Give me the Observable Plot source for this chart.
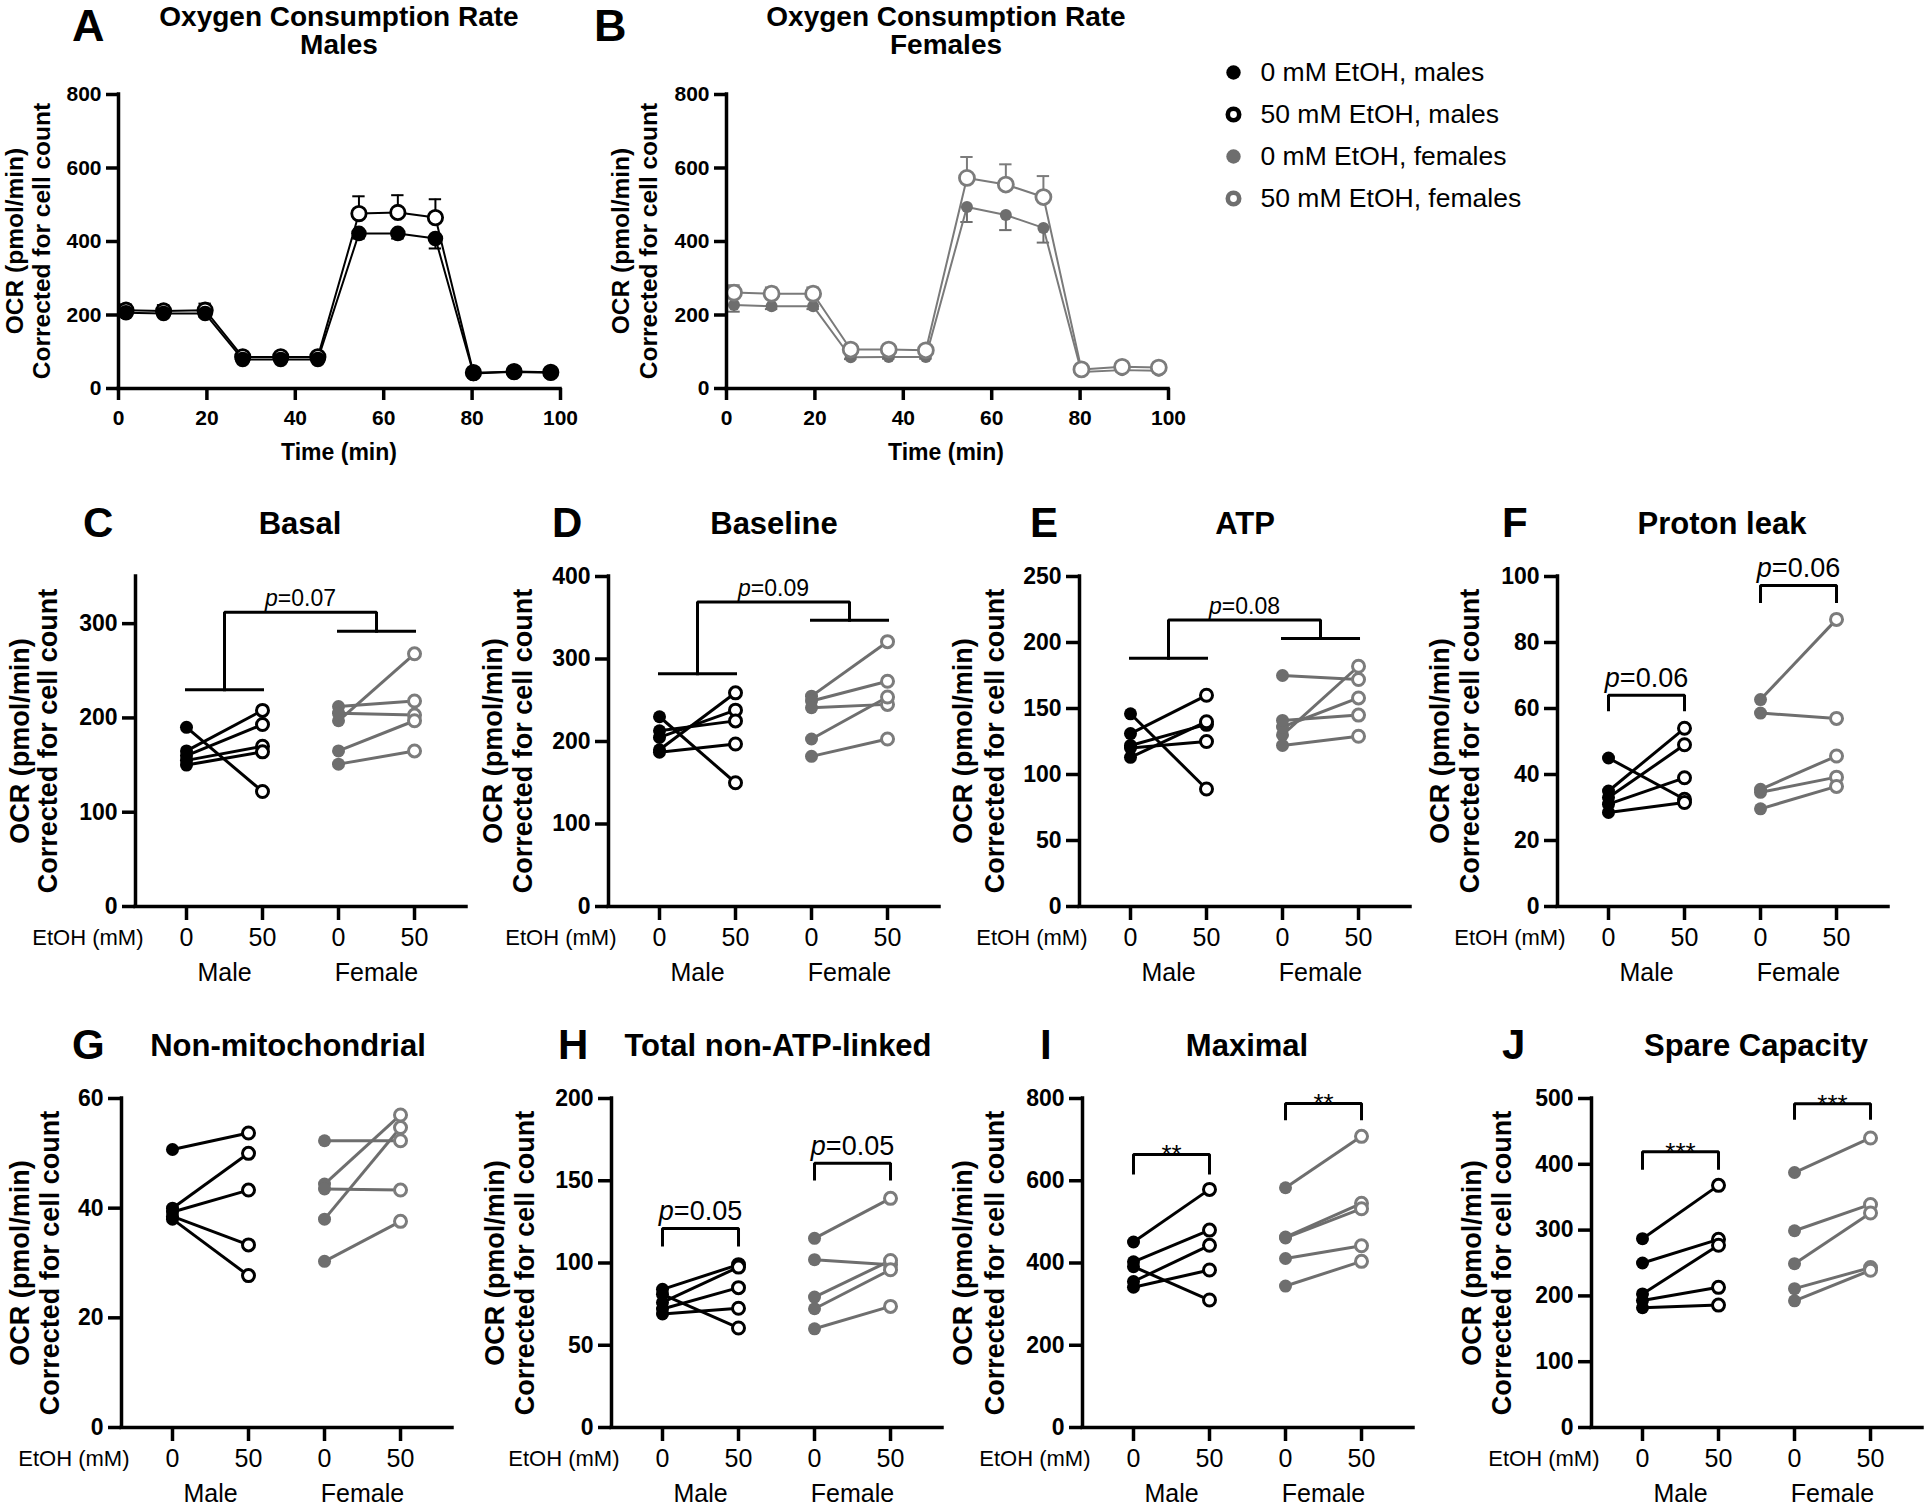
<!DOCTYPE html>
<html>
<head>
<meta charset="utf-8">
<title>Oxygen consumption rate figure</title>
<script src="https://cdn.jsdelivr.net/npm/d3@7"></script>
<script src="https://cdn.jsdelivr.net/npm/@observablehq/plot@0.6"></script>
<style>
html, body { margin: 0; padding: 0; background: #fff; }
#fig { position: relative; width: 1924px; height: 1506px; overflow: hidden; background: #fff; }
</style>
</head>
<body>
<div id="fig"></div>
<script>
// ---------------- Panels A & B : time course (mean, SEM) ----------------
const times = [1.7, 10.2, 19.6, 28.1, 36.7, 45.1, 54.4, 63.2, 71.7, 80.3, 89.5, 97.8];
const maleCtrl      = [206, 204, 204, 79, 79, 79, 422, 422, 408, 41, 45, 43];
const maleCtrlSem   = [10, 8, 9, 6, 6, 6, 14, 14, 27, 3, 3, 3];
const maleEtoh      = [213, 211, 213, 86, 86, 86, 476, 479, 465, 43, 46, 44];
const maleEtohSem   = [16, 16, 18, 6, 6, 6, 47, 47, 50, 3, 3, 3];
const femaleCtrl    = [227, 224, 224, 85, 86, 86, 494, 472, 437, 45, 50, 48];
const femaleCtrlSem = [18, 8, 8, 5, 5, 5, 41, 41, 40, 4, 4, 4];
const femaleEtoh    = [261, 258, 258, 106, 106, 104, 573, 555, 521, 52, 59, 57];
const femaleEtohSem = [20, 17, 17, 6, 6, 6, 57, 55, 57, 4, 4, 4];
const timeTicks = [0, 20, 40, 60, 80, 100];
const ocrTicks = [0, 200, 400, 600, 800];

const legendLabels = ["0 mM EtOH, males", "50 mM EtOH, males", "0 mM EtOH, females", "50 mM EtOH, females"];

// ---------------- Panels C–J : paired values (0 mM -> 50 mM) ----------------
const doseLabels = ["0", "50", "0", "50"];
const sexLabels = ["Male", "Female"];

const basalMale0 = [190, 165, 160, 155, 150];
const basalMale50 = [122, 208, 193, 170, 164];
const basalFemale0 = [197, 212, 205, 165, 151];
const basalFemale50 = [268, 218, 203, 197, 165];

const baselineMale0 = [230, 190, 205, 213, 187];
const baselineMale50 = [150, 259, 238, 225, 197];
const baselineFemale0 = [255, 249, 241, 203, 182];
const baselineFemale50 = [321, 273, 245, 254, 203];

const atpMale0 = [146, 131, 122, 113, 120];
const atpMale50 = [89, 160, 138, 140, 125];
const atpFemale0 = [175, 130, 136, 141, 122];
const atpFemale50 = [172, 182, 158, 145, 129];

const leakMale0 = [45, 35, 33, 31, 28.5];
const leakMale50 = [32.5, 54, 49, 39, 31.5];
const leakFemale0 = [62.7, 58.6, 35.5, 34.6, 29.6];
const leakFemale50 = [87, 57, 45.6, 39.2, 36.4];

const nonmitoMale0 = [50.7, 40, 39.3, 38.5, 38];
const nonmitoMale50 = [53.7, 50, 43.3, 33.3, 27.7];
const nonmitoFemale0 = [52.3, 44.4, 43.5, 38, 30.3];
const nonmitoFemale50 = [52.3, 57, 43.3, 54.7, 37.6];

const nonAtpMale0 = [81, 84, 76, 72, 69];
const nonAtpMale50 = [60.5, 99, 97.5, 85, 72.5];
const nonAtpFemale0 = [115, 102, 79.3, 72.2, 60];
const nonAtpFemale50 = [139.3, 99, 101.5, 95.9, 73.6];

const maximalMale0 = [451, 403, 355, 391, 341];
const maximalMale50 = [579, 480, 443, 310, 383];
const maximalFemale0 = [583, 463, 461, 411, 344];
const maximalFemale50 = [708, 545, 532, 442, 404];

const spareMale0 = [287, 250, 203, 193, 182];
const spareMale50 = [368, 286, 277, 213, 186];
const spareFemale0 = [387.5, 299, 249, 211, 192.5];
const spareFemale50 = [440, 339, 326, 243, 239];

// significance annotations (values in data units)
const basalBracket = {type: "across", male: 230, female: 292, top: 312, label: "p=0.07"};
const baselineBracket = {type: "across", male: 282, female: 347, top: 369, label: "p=0.09"};
const atpBracket = {type: "across", male: 188, female: 203, top: 217, label: "p=0.08"};
const leakBrackets = {type: "within", items: [{h: 64, leg: 59.6, label: "p=0.06"}, {h: 97.3, leg: 92.4, label: "p=0.06"}]};
const nonAtpBrackets = {type: "within", items: [{h: 121, leg: 111, label: "p=0.05"}, {h: 160.6, leg: 151, label: "p=0.05"}]};
const maximalBrackets = {type: "within", items: [{h: 664, leg: 619, label: "**"}, {h: 788, leg: 751, label: "**"}]};
const spareBrackets = {type: "within", items: [{h: 419, leg: 394, label: "***"}, {h: 492, leg: 470, label: "***"}]};

// ---------------- styling / layout ----------------
const FONT = '"Liberation Sans", Arial, Helvetica, sans-serif';
const BLACK = "#000000", GREY = "#6e6e6e", GREY_OPEN = "#7c7c7c", GREY_LINE = "#7a7a7a";
const fig = document.getElementById("fig");

function addText(text, x, y, {size = 20, weight = "bold", anchor = "middle", rotate = 0} = {}) {
  const d = document.createElement("div");
  d.textContent = text;
  Object.assign(d.style, {position: "absolute", left: x + "px", top: y + "px", fontSize: size + "px",
    fontWeight: weight, whiteSpace: "nowrap", lineHeight: "1", fontFamily: FONT, color: "#000"});
  const tx = anchor === "middle" ? "-50%" : anchor === "end" ? "-100%" : "0";
  d.style.transform = `translate(${tx}, -50%)` + (rotate ? ` rotate(${rotate}deg)` : "");
  fig.appendChild(d);
}
function place(svg, left, top) {
  svg.style.position = "absolute";
  svg.style.left = left + "px";
  svg.style.top = top + "px";
  svg.style.maxWidth = "none";
  // italic "p" in p-value labels
  svg.querySelectorAll("text").forEach(t => {
    if (t.childElementCount === 0 && /^p=/.test(t.textContent)) {
      const rest = t.textContent.slice(1);
      t.textContent = "";
      const sp = document.createElementNS("http://www.w3.org/2000/svg", "tspan");
      sp.setAttribute("font-style", "italic");
      sp.textContent = "p";
      t.appendChild(sp);
      t.appendChild(document.createTextNode(rest));
    }
  });
  fig.appendChild(svg);
}

// ---------- time-course panels ----------
function timeCourse(series, box) {
  const sets = series.map(s => times.map((t, i) => ({t, v: s.values[i], e: s.sem[i] * s.dir, color: s.color})));
  const marks = [];
  sets.forEach(rows => {
    marks.push(Plot.ruleX(rows, {x: "t", y1: "v", y2: d => d.v + d.e, stroke: "color", strokeWidth: 2}));
    marks.push(Plot.ruleY(rows, {y: d => d.v + d.e, x1: d => d.t - 1.4, x2: d => d.t + 1.4, stroke: "color", strokeWidth: 2}));
  });
  sets.forEach((rows, k) => marks.push(Plot.line(rows, {x: "t", y: "v", stroke: series[k].line, strokeWidth: 2})));
  sets.forEach((rows, k) => {
    const s = series[k];
    marks.push(Plot.dot(rows, s.open
      ? {x: "t", y: "v", r: s.r, fill: "white", stroke: s.color, strokeWidth: 2.8}
      : {x: "t", y: "v", r: s.r, fill: s.color}));
  });
  marks.push(
    Plot.ruleX([0], {strokeWidth: 3.5, strokeLinecap: "square"}),
    Plot.ruleY([0], {strokeWidth: 3.5, strokeLinecap: "square"}),
    Plot.axisY({ticks: ocrTicks, tickSize: 12, tickPadding: 5, strokeWidth: 3.5, fontSize: 21, fontWeight: "bold", label: null}),
    Plot.axisX({ticks: timeTicks, tickSize: 12, tickPadding: 10, strokeWidth: 3.5, fontSize: 21, fontWeight: "bold", label: null})
  );
  return Plot.plot({
    width: box.width, height: 380, marginLeft: box.ml, marginRight: 14, marginTop: 34, marginBottom: 52,
    style: {fontFamily: FONT, background: "transparent", overflow: "visible", fontWeight: "bold"},
    x: {domain: [0, 100]}, y: {domain: [0, 800]}, color: {type: "identity"},
    marks
  });
}

// frame A: x 118–560, frame B: x 726–1168, both y 94–388
place(timeCourse([
  {values: maleEtoh, sem: maleEtohSem, dir: 1, color: BLACK, line: BLACK, open: true, r: 7.2},
  {values: maleCtrl, sem: maleCtrlSem, dir: -1, color: BLACK, line: BLACK, open: false, r: 7.8}
], {width: 574, ml: 118}), 0, 60);

place(timeCourse([
  {values: femaleCtrl, sem: femaleCtrlSem, dir: -1, color: GREY, line: GREY_LINE, open: false, r: 6},
  {values: femaleEtoh, sem: femaleEtohSem, dir: 1, color: GREY_OPEN, line: GREY_LINE, open: true, r: 7.5}
], {width: 576, ml: 120}), 606, 60);

// ---------- legend ----------
{
  const rows = legendLabels.map((label, i) => ({label, color: i < 2 ? BLACK : GREY, open: i % 2 === 1}));
  const svg = Plot.plot({
    width: 460, height: 190, margin: 0,
    style: {fontFamily: FONT, background: "transparent", overflow: "visible"},
    x: {domain: [0, 1], range: [33, 133], axis: null},
    y: {type: "point", domain: legendLabels, range: [31, 158], padding: 0, axis: null},
    color: {type: "identity"},
    marks: [
      Plot.dot(rows.filter(d => !d.open), {x: () => 0, y: "label", r: 7.2, fill: "color"}),
      Plot.dot(rows.filter(d => d.open), {x: () => 0, y: "label", r: 5.7, fill: "white", stroke: "color", strokeWidth: 4.6}),
      Plot.text(rows, {x: () => 0, y: "label", text: "label", dx: 27, textAnchor: "start", lineAnchor: "middle", fontSize: 26.5})
    ]
  });
  place(svg, 1200, 40);
}

// ---------- paired panels ----------
const pairedPanels = [
  {id: "C", title: "Basal", yMax: 350, ticks: [0, 100, 200, 300], m0: basalMale0, m50: basalMale50, f0: basalFemale0, f50: basalFemale50, bracket: basalBracket},
  {id: "D", title: "Baseline", yMax: 400, ticks: [0, 100, 200, 300, 400], m0: baselineMale0, m50: baselineMale50, f0: baselineFemale0, f50: baselineFemale50, bracket: baselineBracket},
  {id: "E", title: "ATP", yMax: 250, ticks: [0, 50, 100, 150, 200, 250], m0: atpMale0, m50: atpMale50, f0: atpFemale0, f50: atpFemale50, bracket: atpBracket},
  {id: "F", title: "Proton leak", yMax: 100, ticks: [0, 20, 40, 60, 80, 100], m0: leakMale0, m50: leakMale50, f0: leakFemale0, f50: leakFemale50, bracket: leakBrackets},
  {id: "G", title: "Non-mitochondrial", yMax: 60, ticks: [0, 20, 40, 60], m0: nonmitoMale0, m50: nonmitoMale50, f0: nonmitoFemale0, f50: nonmitoFemale50, bracket: null},
  {id: "H", title: "Total non-ATP-linked", yMax: 200, ticks: [0, 50, 100, 150, 200], m0: nonAtpMale0, m50: nonAtpMale50, f0: nonAtpFemale0, f50: nonAtpFemale50, bracket: nonAtpBrackets},
  {id: "I", title: "Maximal", yMax: 800, ticks: [0, 200, 400, 600, 800], m0: maximalMale0, m50: maximalMale50, f0: maximalFemale0, f50: maximalFemale50, bracket: maximalBrackets},
  {id: "J", title: "Spare Capacity", yMax: 500, ticks: [0, 100, 200, 300, 400, 500], m0: spareMale0, m50: spareMale50, f0: spareFemale0, f50: spareFemale50, bracket: spareBrackets}
];

const row2 = {frameTop: 576, frameBottom: 906, titleY: 523, mb: 90};
const row3 = {frameTop: 1098, frameBottom: 1427, titleY: 1045, mb: 80};
const panelLayout = {
  C: {row: row2, axisX: 135, titleX: 300, letterX: 83, yt: [-115, -87]},
  D: {row: row2, axisX: 608, titleX: 774, letterX: 552, yt: [-115, -85]},
  E: {row: row2, axisX: 1079, titleX: 1245, letterX: 1030, yt: [-116, -84]},
  F: {row: row2, axisX: 1557, titleX: 1722, letterX: 1502, yt: [-117, -87]},
  G: {row: row3, axisX: 121, titleX: 288, letterX: 72, yt: [-101, -71]},
  H: {row: row3, axisX: 611, titleX: 778, letterX: 558, yt: [-116, -86]},
  I: {row: row3, axisX: 1082, titleX: 1247, letterX: 1040, yt: [-119, -87]},
  J: {row: row3, axisX: 1591, titleX: 1756, letterX: 1502, yt: [-119, -89]}
};
const X_DOMAIN = [-0.671, 3.684];

function bracketMarks(b) {
  if (!b) return [];
  const segs = [], labels = [];
  if (b.type === "across") {
    segs.push([[0, b.male], [1, b.male]]);
    segs.push([[2, b.female], [3, b.female]]);
    segs.push([[0.5, b.male], [0.5, b.top], [2.5, b.top], [2.5, b.female]]);
    labels.push({x: 1.5, y: b.top, text: b.label, size: 23, dy: -6});
  } else {
    b.items.forEach((it, k) => {
      const x0 = 2 * k, x1 = 2 * k + 1;
      segs.push([[x0, it.leg], [x0, it.h], [x1, it.h], [x1, it.leg]]);
      const star = /^\*+$/.test(it.label);
      labels.push({x: (x0 + x1) / 2, y: it.h, text: it.label, size: star ? 26 : 27, dy: star ? 9 : -8});
    });
  }
  const pts = segs.flatMap((s, k) => s.map(([x, y]) => ({x, y, k})));
  return [
    Plot.line(pts, {x: "x", y: "y", z: "k", stroke: BLACK, strokeWidth: 3, strokeLinejoin: "miter", strokeLinecap: "square"}),
    ...labels.map(l => Plot.text([l], {x: "x", y: "y", text: "text", fontSize: l.size, dy: l.dy, lineAnchor: "bottom", fontWeight: "normal"}))
  ];
}

function pairedPlot(p, L) {
  const groups = [
    {x0: 0, x1: 1, a: p.m0, b: p.m50, line: BLACK, fill: BLACK, ring: BLACK},
    {x0: 2, x1: 3, a: p.f0, b: p.f50, line: GREY, fill: GREY, ring: GREY_OPEN}
  ];
  const pairs = groups.flatMap(g => g.a.map((v, i) => ({xa: g.x0, xb: g.x1, ya: v, yb: g.b[i], line: g.line, fill: g.fill, ring: g.ring})));
  const frameH = L.row.frameBottom - L.row.frameTop;
  return Plot.plot({
    width: 449, height: 45 + frameH + L.row.mb,
    marginLeft: 110, marginRight: 8, marginTop: 45, marginBottom: L.row.mb,
    style: {fontFamily: FONT, background: "transparent", overflow: "visible", fontWeight: "bold"},
    x: {domain: X_DOMAIN}, y: {domain: [0, p.yMax]}, color: {type: "identity"},
    marks: [
      Plot.link(pairs, {x1: "xa", y1: "ya", x2: "xb", y2: "yb", stroke: "line", strokeWidth: 3}),
      Plot.dot(pairs, {x: "xa", y: "ya", r: 6.5, fill: "fill"}),
      Plot.dot(pairs, {x: "xb", y: "yb", r: 6, fill: "white", stroke: "ring", strokeWidth: 3}),
      ...bracketMarks(p.bracket),
      Plot.ruleX([X_DOMAIN[0]], {strokeWidth: 3.5, strokeLinecap: "square"}),
      Plot.ruleY([0], {strokeWidth: 3.5, strokeLinecap: "square"}),
      Plot.axisY({ticks: p.ticks, tickSize: 13, tickPadding: 5, strokeWidth: 3.5, fontSize: 23, fontWeight: "bold", label: null}),
      Plot.axisX({ticks: [0, 1, 2, 3], tickFormat: i => doseLabels[i], tickSize: 14, tickPadding: 8, strokeWidth: 3.5, fontSize: 25, fontWeight: "normal", label: null}),
      Plot.text(sexLabels, {x: (d, i) => 2 * i + 0.5, frameAnchor: "bottom", dy: 66, lineAnchor: "middle", fontSize: 25, fontWeight: "normal"}),
      Plot.text(["EtOH (mM)"], {frameAnchor: "bottom-left", textAnchor: "end", dx: 8, dy: 31, lineAnchor: "middle", fontSize: 22, fontWeight: "normal"})
    ]
  });
}

pairedPanels.forEach(p => {
  const L = panelLayout[p.id];
  place(pairedPlot(p, L), L.axisX - 110, L.row.frameTop - 45);
});

// ---------- HTML text: titles, letters, axis titles ----------
addText("A", 72, 25, {size: 45, anchor: "start"});
addText("Oxygen Consumption Rate", 339, 17, {size: 28});
addText("Males", 339, 45, {size: 28});
addText("B", 594, 25, {size: 45, anchor: "start"});
addText("Oxygen Consumption Rate", 946, 17, {size: 28});
addText("Females", 946, 45, {size: 28});
[[118, 339, -103, -76], [726, 946, -105, -77]].forEach(([ax, cx, o1, o2]) => {
  addText("OCR (pmol/min)", ax + o1, 241, {size: 24.5, rotate: -90});
  addText("Corrected for cell count", ax + o2, 241, {size: 24.5, rotate: -90});
  addText("Time (min)", cx, 452, {size: 23});
});

pairedPanels.forEach(p => {
  const L = panelLayout[p.id];
  const cy = (L.row.frameTop + L.row.frameBottom) / 2;
  addText(p.id, L.letterX, L.row.titleY, {size: 42, anchor: "start"});
  addText(p.title, L.titleX, L.row.titleY, {size: 31});
  addText("OCR (pmol/min)", L.axisX + L.yt[0], cy, {size: 27, rotate: -90});
  addText("Corrected for cell count", L.axisX + L.yt[1], cy, {size: 27, rotate: -90});
});
</script>
</body>
</html>
